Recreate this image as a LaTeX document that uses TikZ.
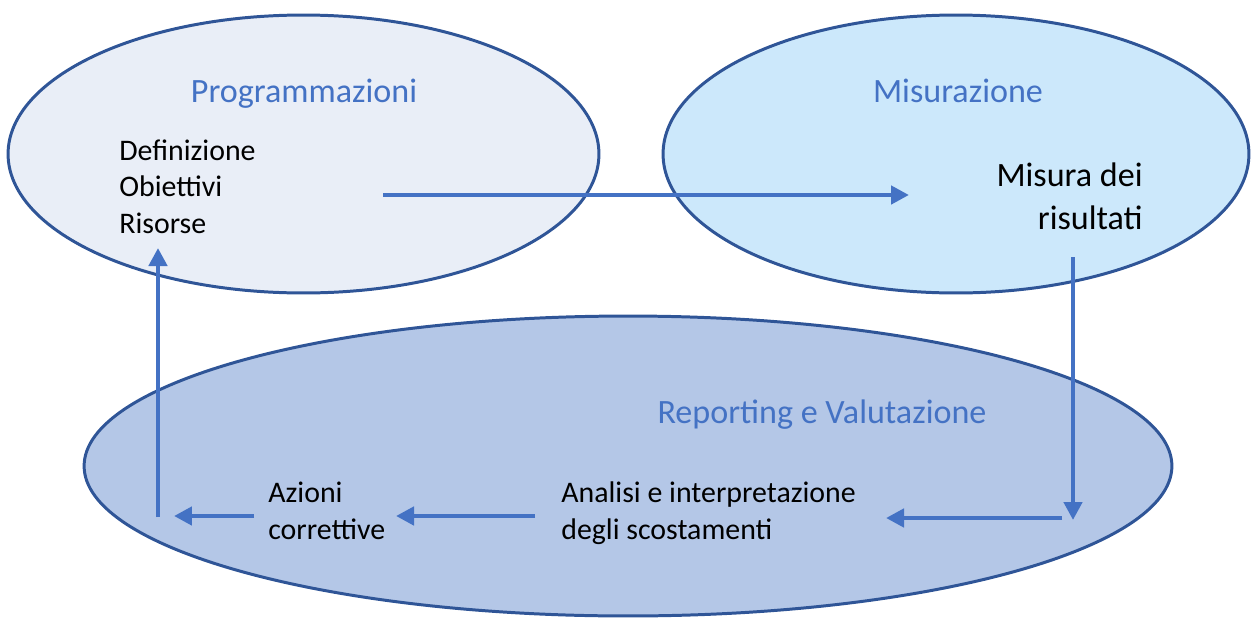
\documentclass[tikz,border=0pt]{standalone}
\usepackage{fontspec}
\setmainfont{Carlito}
\usetikzlibrary{arrows.meta, positioning}
\definecolor{rimblue}{HTML}{2F5597}
\definecolor{arrblue}{HTML}{4472C4}
\definecolor{progfill}{HTML}{E9EEF7}
\definecolor{misfill}{HTML}{CCE8FB}
\definecolor{repfill}{HTML}{B4C7E7}

\begin{document}
\begin{tikzpicture}[x=0.02cm, y=-0.02cm,
  >={Triangle[length=0.36cm, width=0.36cm]},
  phase/.style={draw=rimblue, line width=1.7pt},
  heading/.style={text=arrblue, font=\fontsize{19.4}{23}\selectfont, anchor=base, inner sep=0pt},
  body/.style={text=black, font=\fontsize{17}{20.5}\selectfont, inner sep=0pt},
  flow/.style={arrblue, line width=2.8pt, ->}]

\useasboundingbox (0,0) rectangle (1251,619);

% Phases
\filldraw[phase, fill=progfill] (303.5,154) ellipse (5.91cm and 2.78cm);
\filldraw[phase, fill=misfill] (956,154) ellipse (5.86cm and 2.78cm);
\filldraw[phase, fill=repfill] (628,466) ellipse (10.88cm and 3cm);

% Titles
\node[heading] (progtitle) at (304,102) {Programmazioni};
\node[heading] (mistitle) at (958,102) {Misurazione};
\node[heading] (reptitle) at (822,423) {Reporting e Valutazione};

% Contents (base = last line)
\node[body, align=left, anchor=base west] (progtext) at (119,233) {Definizione\\Obiettivi\\Risorse};
\node[body, font=\fontsize{19.4}{24}\selectfont, align=right, anchor=base east] (mistext) at (1143,229) {Misura dei\\risultati};
\node[body, align=left, anchor=base west] (anatext) at (561,539) {Analisi e interpretazione\\degli scostamenti};
\node[body, align=left, anchor=base west] (aztext) at (268,539) {Azioni\\correttive};

% Arrow ends
\coordinate (progout) at (383,195);
\coordinate (misin) at (909,195);
\coordinate (misout) at (1073,257);
\coordinate (repin) at (1073,520);
\coordinate (anaout) at (1062,518);
\coordinate (anain) at (886,518);
\coordinate (azout) at (535,516);
\coordinate (azin) at (396,516);
\coordinate (corrout) at (254,516);
\coordinate (corrin) at (174,516);
\coordinate (retout) at (158,517);
\coordinate (progin) at (158,248);

% Cycle
\draw[flow] (progout) -- (misin);
\draw[flow] (misout) -- (repin);
\draw[flow] (anaout) -- (anain);
\draw[flow] (azout) -- (azin);
\draw[flow] (corrout) -- (corrin);
\draw[flow] (retout) -- (progin);

\end{tikzpicture}
\end{document}
